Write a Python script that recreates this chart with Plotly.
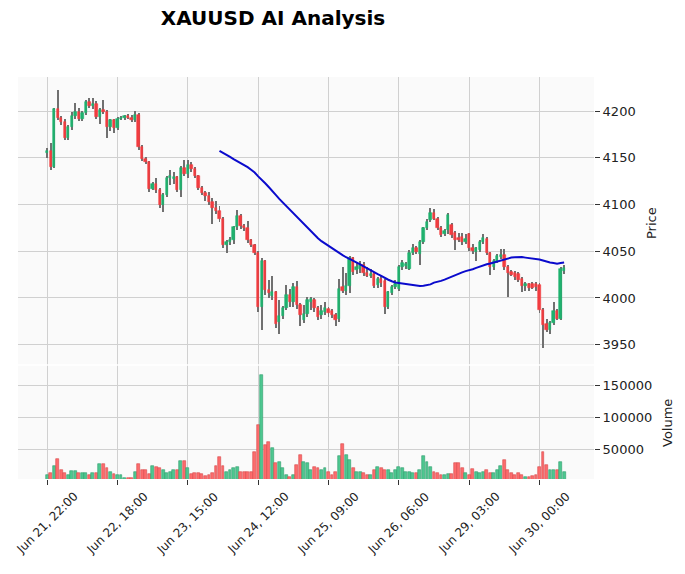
import plotly.graph_objects as go
import pandas as pd

# ---- data (hourly XAUUSD, index-based x axis like mplfinance) ----
opens = [4155, 4157, 4140, 4202, 4193, 4188, 4171, 4183, 4195, 4199,
         4191, 4198, 4210, 4205, 4208, 4194, 4201, 4199, 4183, 4190,
         4182, 4192, 4193, 4195, 4193, 4190, 4196, 4162, 4149, 4145,
         4117, 4122, 4116, 4100, 4110, 4128, 4127, 4129, 4116, 4139,
         4133, 4142, 4138, 4130, 4118, 4112, 4109, 4103, 4096, 4093,
         4084, 4057, 4060, 4062, 4076, 4088, 4077, 4075, 4062, 4057,
         4048, 3990, 4040, 4009, 4002, 4006, 3974, 3981, 3989, 4003,
         3996, 4012, 3993, 3976, 3983, 3996, 3998, 3989, 3982, 3985,
         3988, 3986, 3982, 3977, 4012, 4008, 4013, 4043, 4030, 4031,
         4035, 4027, 4024, 4026, 4014, 4020, 4018, 3990, 4005, 4012,
         4010, 4033, 4034, 4031, 4048, 4054, 4047, 4060, 4075, 4083,
         4091, 4085, 4075, 4068, 4073, 4078, 4070, 4064, 4065, 4060,
         4068, 4054, 4049, 4051, 4060, 4063, 4048, 4033, 4039, 4044,
         4046, 4033, 4028, 4027, 4026, 4020, 4013, 4015, 4015, 4015,
         4014, 3987, 3972, 3966, 3973, 3986, 3978, 4029]
highs = [4160, 4166, 4203, 4222, 4195, 4192, 4185, 4199, 4209, 4203,
         4200, 4212, 4214, 4214, 4211, 4203, 4212, 4201, 4192, 4192,
         4194, 4195, 4196, 4197, 4196, 4200, 4198, 4164, 4151, 4147,
         4124, 4128, 4118, 4112, 4130, 4137, 4135, 4131, 4141, 4148,
         4148, 4145, 4140, 4132, 4120, 4114, 4113, 4107, 4104, 4098,
         4087, 4062, 4065, 4077, 4094, 4090, 4079, 4082, 4063, 4058,
         4050, 4043, 4041, 4019, 4024, 4008, 3998, 3991, 4014, 4010,
         4016, 4018, 3995, 3993, 4001, 4001, 4000, 3991, 3992, 3996,
         3990, 3988, 3984, 4020, 4033, 4027, 4045, 4044, 4038, 4040,
         4038, 4033, 4031, 4028, 4022, 4024, 4020, 4007, 4014, 4019,
         4035, 4041, 4039, 4051, 4058, 4056, 4062, 4076, 4085, 4096,
         4095, 4087, 4077, 4074, 4091, 4080, 4072, 4070, 4070, 4068,
         4070, 4058, 4055, 4062, 4068, 4065, 4049, 4042, 4047, 4052,
         4052, 4035, 4030, 4029, 4028, 4022, 4017, 4016, 4017, 4017,
         4016, 3989, 3977, 3975, 3996, 3988, 4033, 4035]
lows = [4150, 4137, 4139, 4190, 4185, 4169, 4169, 4180, 4192, 4189,
        4189, 4196, 4203, 4202, 4192, 4186, 4197, 4171, 4179, 4177,
        4180, 4190, 4190, 4191, 4188, 4188, 4158, 4147, 4143, 4113,
        4115, 4112, 4096, 4092, 4108, 4121, 4122, 4113, 4108, 4130,
        4128, 4135, 4128, 4116, 4110, 4104, 4100, 4079, 4090, 4081,
        4053, 4048, 4057, 4058, 4073, 4074, 4072, 4059, 4055, 4046,
        3985, 3966, 4003, 4000, 3998, 3968, 3962, 3978, 3987, 3990,
        3990, 3988, 3970, 3973, 3980, 3987, 3985, 3976, 3978, 3982,
        3980, 3979, 3970, 3974, 4005, 4003, 4005, 4025, 4026, 4027,
        4024, 4022, 4021, 4011, 4011, 4012, 3983, 3988, 4003, 4010,
        4007, 4030, 4031, 4030, 4046, 4047, 4035, 4058, 4073, 4081,
        4083, 4073, 4065, 4066, 4068, 4064, 4051, 4060, 4057, 4058,
        4050, 4047, 4040, 4049, 4058, 4046, 4025, 4030, 4037, 4042,
        4030, 4001, 4023, 4019, 4017, 4006, 4008, 4008, 4010, 4008,
        3984, 3946, 3964, 3962, 3971, 3976, 3976, 4026]
closes = [4157, 4140, 4202, 4193, 4188, 4171, 4183, 4195, 4199, 4191,
          4198, 4210, 4205, 4208, 4194, 4201, 4199, 4183, 4190, 4182,
          4192, 4193, 4195, 4193, 4190, 4196, 4162, 4149, 4145, 4117,
          4122, 4116, 4100, 4110, 4128, 4130, 4129, 4116, 4139, 4133,
          4142, 4138, 4130, 4118, 4112, 4109, 4103, 4096, 4093, 4084,
          4057, 4060, 4062, 4076, 4088, 4077, 4075, 4062, 4057, 4048,
          3990, 4040, 4009, 4005, 4006, 3972, 3981, 3989, 4003, 3996,
          4012, 3993, 3982, 3983, 3998, 3999, 3989, 3980, 3986, 3989,
          3984, 3982, 3976, 4010, 4008, 4013, 4043, 4028, 4033, 4035,
          4027, 4024, 4026, 4013, 4020, 4016, 3990, 4006, 4012, 4015,
          4033, 4037, 4036, 4048, 4054, 4049, 4060, 4075, 4081, 4091,
          4085, 4075, 4067, 4072, 4089, 4067, 4062, 4062, 4060, 4063,
          4054, 4050, 4053, 4060, 4064, 4048, 4033, 4040, 4045, 4046,
          4033, 4027, 4025, 4022, 4019, 4013, 4015, 4011, 4011, 4012,
          3987, 3971, 3966, 3973, 3986, 3978, 4031, 4032]
volumes = [9400, 12000, 23000, 34500, 17000, 12000, 9400, 15500, 15500, 12000,
           12000, 12000, 9400, 12000, 12000, 26000, 26000, 20000, 14500, 11000,
           9400, 9400, 5000, 4000, 5000, 14500, 26000, 17000, 17000, 11000,
           23000, 21500, 20000, 17000, 12000, 14500, 17000, 17000, 31000, 31000,
           20000, 11000, 12000, 12000, 11000, 7800, 9400, 13000, 23000, 38000,
           23000, 14500, 17000, 20000, 21500, 13500, 13500, 13500, 13500, 45000,
           87500, 165600, 56000, 61000, 51000, 28000, 29500, 20000, 10000, 7000,
           10000, 25000, 40600, 30200, 27600, 16700, 22400, 19800, 17200, 19800,
           14000, 9400, 14000, 39000, 57800, 40600, 32800, 19800, 14600, 14600,
           12000, 9400, 9400, 17200, 22400, 19800, 17200, 17200, 12000, 17200,
           22400, 19800, 14600, 14600, 12000, 12000, 17200, 39000, 30200, 22400,
           14600, 12000, 9400, 9400, 10300, 10300, 28000, 28600, 19800, 12000,
           9400, 18200, 14600, 13000, 14600, 17200, 12000, 12000, 17200, 23400,
           33000, 17200, 12000, 9400, 12000, 9400, 6800, 6000, 8000, 9400,
           22400, 45800, 25000, 16700, 17200, 17200, 30200, 14600]
tick_labels = ["Jun 21, 22:00", "Jun 22, 18:00", "Jun 23, 15:00", "Jun 24, 12:00",
               "Jun 25, 09:00", "Jun 26, 06:00", "Jun 29, 03:00", "Jun 30, 00:00"]
price_ticks = [3950, 4000, 4050, 4100, 4150, 4200]
volume_ticks = [50000, 100000, 150000]
mav_period = 50

# ---- derived ----
n = len(closes)
idx = list(range(n))
tick_pos = list(range(0, n, 20))[:len(tick_labels)]
up = [c >= o for o, c in zip(opens, closes)]
ma = pd.Series(closes).rolling(mav_period).mean()

UP, DN = "#1fb26e", "#f23c40"
VUP, VDN = "#4dc790", "#fd6b6c"
VUPE, VDNE = "#2f9e6c", "#d94a4b"
FONT = "DejaVu Sans"
TXT = "#222222"

fig = go.Figure()

# wicks
fig.add_trace(go.Bar(
    x=idx, base=lows, y=[h - l for h, l in zip(highs, lows)],
    width=0.28, marker=dict(color="#707070", line=dict(width=0)),
    xaxis="x2", yaxis="y2", showlegend=False, hoverinfo="skip"))
# bodies
fig.add_trace(go.Bar(
    x=idx, base=opens, y=[c - o for o, c in zip(opens, closes)],
    width=0.68,
    marker=dict(color=[UP if u else DN for u in up],
                line=dict(color=[UP if u else DN for u in up], width=0.6)),
    xaxis="x2", yaxis="y2", showlegend=False, hoverinfo="skip"))
# moving average
fig.add_trace(go.Scatter(
    x=idx, y=ma, mode="lines", line=dict(color="#0a0acc", width=2),
    xaxis="x2", yaxis="y2", showlegend=False, hoverinfo="skip"))
# volume
fig.add_trace(go.Bar(
    x=idx, y=volumes, width=0.82,
    marker=dict(color=[VUP if u else VDN for u in up],
                line=dict(color=[VUPE if u else VDNE for u in up], width=0.6)),
    xaxis="x", yaxis="y", showlegend=False, hoverinfo="skip"))

split = 114 / 402
grid = "#d0d0d0"
xr = [-8.3, 155.5]

# rotated date labels, centred under their ticks (matplotlib style)
annotations = [
    dict(text=lab, x=p, xref="x", y=0, yref="paper", yshift=-8,
         textangle=-45, showarrow=False, xanchor="center", yanchor="top",
         font=dict(size=12, family=FONT, color=TXT))
    for p, lab in zip(tick_pos, tick_labels)
]
annotations += [
    dict(text="Price", x=(651 - 18) / 576, y=(479 - 223) / 402, xref="paper",
         yref="paper", textangle=-90, showarrow=False, xanchor="center",
         yanchor="middle", font=dict(size=13, family=FONT, color=TXT)),
    dict(text="Volume", x=(667 - 18) / 576, y=(479 - 423) / 402, xref="paper",
         yref="paper", textangle=-90, showarrow=False, xanchor="center",
         yanchor="middle", font=dict(size=13, family=FONT, color=TXT)),
]

fig.update_layout(
    width=685, height=574,
    margin=dict(l=18, r=91, t=77, b=95),
    paper_bgcolor="white", plot_bgcolor="#fafafa",
    barmode="overlay", bargap=0,
    font=dict(family=FONT, size=13, color=TXT),
    title=dict(text="<b>XAUUSD AI Analysis</b>", x=273 / 685, y=1 - 18 / 574,
               xref="container", yref="container", xanchor="center", yanchor="middle",
               font=dict(family=FONT, size=20, color="black")),
    xaxis=dict(domain=[0, 1], range=xr, tickmode="array", tickvals=tick_pos,
               showticklabels=False, ticks="outside", ticklen=5,
               tickcolor="#333333", showgrid=True, gridcolor=grid, gridwidth=1,
               zeroline=False, showline=False, anchor="y"),
    xaxis2=dict(domain=[0, 1], range=xr, matches="x", tickvals=tick_pos,
                showticklabels=False, ticks="", showgrid=True, gridcolor=grid,
                zeroline=False, showline=False, anchor="y2"),
    yaxis=dict(domain=[0, split], range=[3125, 181250], side="right",
               tickmode="array", tickvals=volume_ticks,
               ticktext=[str(v) for v in volume_ticks], ticks="outside", ticklen=5,
               tickcolor="#333333", showgrid=True, gridcolor=grid, zeroline=False,
               showline=False, anchor="x", tickfont=dict(size=13)),
    yaxis2=dict(domain=[split, 1], range=[3928.3, 4236.4], side="right",
                tickmode="array", tickvals=price_ticks,
                ticktext=[str(v) for v in price_ticks], ticks="outside",
                ticklen=5, tickcolor="#333333", showgrid=True, gridcolor=grid,
                zeroline=False, showline=False, anchor="x2", tickfont=dict(size=13)),
    annotations=annotations,
    shapes=[dict(type="line", xref="paper", yref="paper", x0=0, x1=1,
                 y0=split, y1=split, line=dict(color="white", width=1.5))],
)

fig.write_html("out.html")
